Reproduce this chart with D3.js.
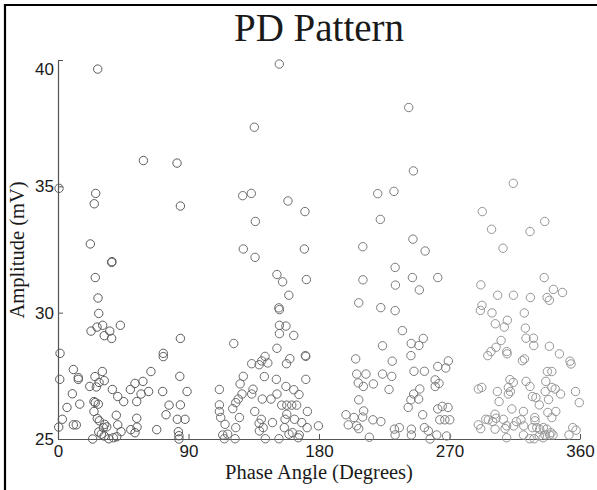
<!DOCTYPE html>
<html>
<head>
<meta charset="utf-8">
<script src="https://cdn.jsdelivr.net/npm/d3@7"></script>
<style>
  html, body { margin: 0; padding: 0; background: #fff; }
  svg { display: block; }
</style>
</head>
<body>
<script>
// phase (deg), amplitude (mV), one list per quadrant
var q1 = [[27.4,39.64],[82.1,35.92],[58.9,36.02],[0.7,34.92],[26,34.72],[25,34.31],[84.4,34.22],[22.3,32.72],
  [37.0,31.99],[37.2,32.02],[25.7,31.39],[27.6,30.58],[28.1,29.97],[22.8,29.27],[26.9,29.43],[30.8,29.50],[35.7,29.27],
  [31.9,29.09],[37.0,28.98],[43.0,29.50],[84.4,28.98],[1.4,28.39],[72.6,28.39],[72.6,28.26],[10.6,27.75],[1.2,27.36],
  [14.0,27.43],[14.0,27.36],[30.6,27.67],[25.5,27.47],[28.3,27.24],[31.9,27.31],[21.9,27.08],[26.4,27.06],[37.5,26.96],
  [64.1,27.67],[53.1,27.20],[58.6,27.28],[49.9,26.96],[62.5,26.88],[57.3,26.78],[41.2,26.68],[45.3,26.48],[54.3,26.48],
  [72.2,26.88],[84.0,27.48],[89.0,26.88],[9.9,26.79],[6.2,26.25],[15.0,26.38],[24.8,26.48],[25.7,26.44],[27.8,26.38],
  [24.8,26.09],[40.2,25.94],[76.6,26.34],[74.5,25.96],[84.4,26.35],[3.0,25.78],[0.5,25.47],[10.6,25.56],[12.6,25.56],
  [27.1,25.81],[28.5,25.72],[32.2,25.58],[31.3,25.45],[33.6,25.48],[41.2,25.56],[54.3,25.82],[54.5,25.47],[50.2,25.37],
  [53.1,25.25],[68.1,25.37],[82.3,25.78],[87.6,25.78],[83.0,25.29],[83.4,25.13],[83.4,25.0],[28.1,25.28],[29.9,25.19],
  [31.9,25.12],[35.0,25.01],[38.2,25.05],[40.5,25.09],[23.9,25.0],[43.5,25.29]];

var q2 = [[152.6,39.84],[135.4,37.34],[127.4,34.63],[133.3,34.72],[158.6,34.42],[170.3,34.0],[136.1,33.61],[127.8,32.52],
  [169.9,32.52],[135.9,32.19],[151.0,31.51],[154.9,31.22],[171.3,31.31],[159.2,30.69],[152.3,30.19],[152.7,30.12],
  [152.7,29.50],[157.2,29.47],[152.7,29.17],[162.6,29.10],[121.2,28.78],[151.0,28.59],[170.6,28.30],[170.9,28.27],
  [142.8,28.27],[133.6,27.98],[138.7,27.94],[140.5,28.09],[144.7,28.01],[159.9,28.18],[157.6,27.98],[142.3,27.47],
  [150.6,27.36],[170.9,27.36],[127.8,27.48],[125.6,27.18],[111.3,26.96],[134.5,26.97],[133.6,26.78],[126.9,26.78],
  [124.3,26.58],[122.6,26.44],[140.9,26.58],[146.9,26.58],[151.0,26.78],[157.2,27.08],[162.6,26.95],[166.2,26.76],
  [154.3,26.34],[157.8,26.34],[161.2,26.34],[164.6,26.34],[111.3,26.35],[111.3,26.09],[112.2,25.85],[115.2,25.58],
  [120.5,26.20],[125.1,25.85],[122.6,25.45],[135.7,26.09],[140.2,25.78],[138.7,25.62],[141.5,25.45],[147.9,25.65],
  [138.9,25.32],[157.8,25.98],[156.6,25.78],[163.1,25.78],[168.1,25.65],[171.8,25.45],[156.1,25.45],[161.7,25.25],
  [166.4,25.16],[165.7,25.05],[159.3,25.19],[172.0,26.09],[113.6,25.16],[117.0,25.19],[114.7,25.01],[122.1,25.01],
  [143.0,25.01],[152.4,25.01],[179.6,25.52]];

var q3 = [[241.9,38.12],[245.1,35.61],[220.5,34.71],[231.7,34.80],[222.3,33.69],[210.2,32.61],[244.8,32.91],[253.2,32.44],
  [232.5,31.79],[210.3,31.30],[232.7,31.09],[244.4,31.39],[249.2,30.90],[261.9,31.39],[207.4,30.39],[222.6,30.20],
  [232.5,30.08],[237.5,29.29],[223.8,28.69],[243.6,28.78],[248.9,28.70],[251.9,28.98],[243.4,28.30],[230.5,28.08],
  [205.3,28.17],[206.0,27.57],[212.4,27.57],[223.8,27.57],[230.2,27.48],[207.1,27.22],[210.6,27.08],[217.5,27.18],
  [228.3,26.96],[245.5,27.68],[252.7,27.68],[261.9,27.87],[267.4,27.81],[269.2,28.09],[260.1,27.34],[262.8,27.20],
  [260.1,27.08],[249.5,26.98],[245.3,26.78],[248.7,26.58],[243.4,26.55],[241.5,26.25],[207.4,26.55],[198.6,25.96],
  [204.1,25.85],[210.8,26.11],[210.1,25.87],[200.2,25.56],[206.0,25.52],[207.4,25.41],[217.2,25.76],[222.7,25.69],
  [214.7,25.07],[232.0,25.39],[235.4,25.45],[232.5,25.16],[243.7,25.39],[243.7,25.16],[251.5,25.96],[252.7,25.45],
  [255.4,25.32],[256.6,25.0],[261.2,25.16],[261.9,26.19],[265.0,26.29],[263.3,25.76],[266.8,25.76],[269.0,26.25],
  [270.2,25.76],[268.0,25.12]];

var q4 = [[314.0,35.12],[292.6,34.0],[299.0,33.30],[325.5,33.21],[335.7,33.61],[306.9,32.55],[335.3,31.39],[291.6,31.10],
  [303.2,30.69],[314.1,30.69],[325.8,30.60],[341.7,30.92],[347.9,30.80],[337.3,30.60],[338.9,30.49],[292.4,30.29],
  [291.3,30.09],[299.3,29.99],[321.6,29.99],[301.6,29.56],[307.8,29.43],[309.9,29.70],[322.3,29.39],[322.8,28.99],
  [327.9,28.99],[328.1,28.70],[305.6,28.90],[302.1,28.63],[298.6,28.46],[296.4,28.30],[309.5,28.46],[309.7,28.37],
  [338.9,28.67],[345.8,28.37],[320.3,28.10],[321.7,28.17],[353.1,28.08],[353.8,27.97],[337.5,27.67],[340.6,27.67],
  [289.9,26.98],[292.3,27.04],[311.7,27.35],[314.0,27.24],[310.6,27.04],[312.0,26.88],[310.6,26.78],[322.8,27.28],
  [325.5,27.08],[303.0,26.88],[304.2,26.48],[336.4,27.28],[336.0,26.88],[340.6,27.04],[342.9,26.98],[346.6,26.78],
  [338.3,26.56],[327.2,26.68],[329.6,26.64],[331.9,26.35],[356.9,26.88],[359.5,26.44],[313.0,26.19],[321.0,26.09],
  [337.8,26.05],[343.3,26.09],[340.6,25.85],[289.9,25.56],[291.5,25.41],[295.0,25.78],[296.8,25.76],[301.4,25.98],
  [302.1,25.82],[299.8,25.69],[301.4,25.39],[307.1,25.78],[309.4,25.52],[308.3,25.41],[314.3,25.52],[316.1,25.69],
  [319.3,25.76],[321.2,25.52],[321.0,25.16],[328.8,25.85],[329.0,25.72],[327.2,25.45],[330.2,25.45],[332.2,25.39],
  [334.7,25.45],[337.1,25.39],[335.9,25.16],[339.1,25.16],[340.0,25.25],[341.4,25.16],[328.3,25.01],[325.3,25.01],
  [309.4,25.05],[352.4,25.16],[355.0,25.45],[357.3,25.35],[331.9,25.12],[334.6,25.05]];

var xTicks = [0, 90, 180, 270, 360];
var yTicks = [25, 30, 35, 40];

var W = 597, H = 490;
var plotLeft = 58, plotRight = 580, plotTop = 60, plotBottom = 439;

var svg = d3.select("body").append("svg")
    .attr("width", W)
    .attr("height", H);

// frame (only top and left edges show in the picture)
svg.append("line").attr("x1", 5).attr("y1", 5).attr("x2", W).attr("y2", 5)
    .attr("stroke", "#000").attr("stroke-width", 2.2);
svg.append("line").attr("x1", 5).attr("y1", 4).attr("x2", 5).attr("y2", H)
    .attr("stroke", "#000").attr("stroke-width", 2.2);

var x = d3.scaleLinear().domain([0, 360]).range([plotLeft, plotRight]);
var y = d3.scaleLinear().domain([25, 40]).range([plotBottom, plotTop]);

var xAxis = svg.append("g")
    .attr("transform", "translate(0," + plotBottom + ")")
    .call(d3.axisBottom(x).tickValues(xTicks).tickSizeInner(-5).tickSizeOuter(0).tickPadding(6));
var yAxis = svg.append("g")
    .attr("transform", "translate(" + plotLeft + ",0)")
    .call(d3.axisLeft(y).tickValues(yTicks).tickSizeInner(-5).tickSizeOuter(0).tickPadding(4));

[xAxis, yAxis].forEach(function(g){
  g.select(".domain").attr("stroke", "#555").attr("stroke-width", 1.2);
  g.selectAll(".tick line").attr("stroke", "#555");
  g.selectAll("text")
      .attr("fill", "#1a1a1a")
      .style("font-family", "'Liberation Sans', Arial, sans-serif")
      .style("font-size", "17px");
});

// the top label sits a little below its tick
yAxis.selectAll(".tick text").filter(function(d){ return d === 40; }).attr("dy", "0.85em");

var quads = [q1, q2, q3, q4];
var strokes = ["#5a5a5a", "#6c6c6c", "#7a7a7a", "#959595"];

quads.forEach(function(pts, i){
  svg.append("g").selectAll("circle")
      .data(pts)
      .enter().append("circle")
      .attr("cx", function(d){ return x(d[0]); })
      .attr("cy", function(d){ return y(d[1]); })
      .attr("r", 4.2)
      .attr("fill", "none")
      .attr("stroke", strokes[i])
      .attr("stroke-width", 1);
});

svg.append("text")
    .attr("x", (plotLeft + plotRight) / 2)
    .attr("y", 41)
    .attr("text-anchor", "middle")
    .style("font-family", "'Liberation Serif', 'Times New Roman', serif")
    .style("font-size", "39px")
    .attr("fill", "#1a1a1a")
    .text("PD Pattern");

svg.append("text")
    .attr("x", (plotLeft + plotRight) / 2)
    .attr("y", 479)
    .attr("text-anchor", "middle")
    .style("font-family", "'Liberation Serif', 'Times New Roman', serif")
    .style("font-size", "20.5px")
    .attr("fill", "#1a1a1a")
    .text("Phase Angle (Degrees)");

svg.append("text")
    .attr("transform", "translate(24,250) rotate(-90)")
    .attr("text-anchor", "middle")
    .style("font-family", "'Liberation Serif', 'Times New Roman', serif")
    .style("font-size", "20.5px")
    .attr("fill", "#1a1a1a")
    .text("Amplitude (mV)");
</script>
</body>
</html>
